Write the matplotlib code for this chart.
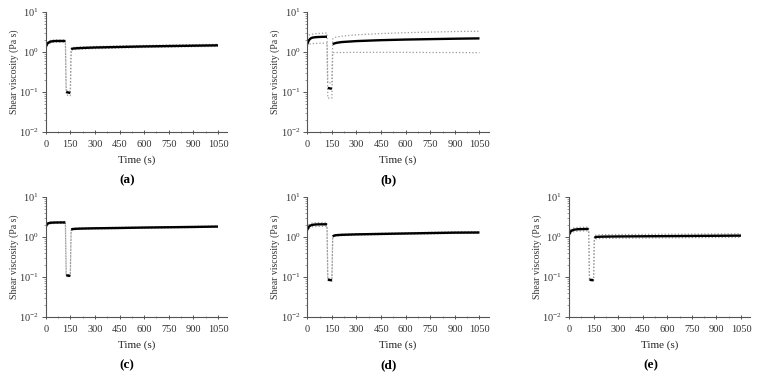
import matplotlib
matplotlib.use("Agg")
import matplotlib.pyplot as plt
import matplotlib.ticker as mticker
import numpy as np

plt.rcParams['font.family'] = 'Liberation Serif'
plt.rcParams['mathtext.fontset'] = 'stix'
plt.rcParams['font.size'] = 7.5

# time points (s): step 1 (0-120), step 2 (125-150), step 3 (155-1050)
t1 = [0, 5, 10, 20, 30, 45, 60, 90, 120]
t2 = [125, 135, 150]
t3 = [155, 165, 180, 210, 300, 450, 600, 750, 900, 1050]

# mean shear viscosity (Pa s) per sample, with upper / lower SD curves
mean_a = [1.30, 1.45, 1.60, 1.72, 1.80, 1.84, 1.86, 1.86, 1.86, 0.100, 0.097, 0.094,
          1.18, 1.20, 1.22, 1.24, 1.28, 1.32, 1.36, 1.39, 1.42, 1.45]
up_a = [1.40, 1.56, 1.72, 1.84, 1.92, 1.96, 1.98, 1.98, 1.98, 0.110, 0.107, 0.104,
        1.26, 1.28, 1.30, 1.32, 1.36, 1.40, 1.44, 1.48, 1.51, 1.54]
lo_a = [1.20, 1.34, 1.48, 1.60, 1.68, 1.72, 1.74, 1.74, 1.74, 0.085, 0.082, 0.080,
        1.10, 1.12, 1.14, 1.16, 1.20, 1.24, 1.28, 1.31, 1.34, 1.36]

mean_b = [1.55, 1.75, 1.95, 2.15, 2.25, 2.30, 2.33, 2.36, 2.38, 0.125, 0.123, 0.120,
          1.55, 1.62, 1.68, 1.75, 1.85, 1.95, 2.02, 2.07, 2.12, 2.16]
up_b = [2.20, 2.45, 2.60, 2.70, 2.75, 2.80, 2.85, 2.90, 2.95, 0.170, 0.168, 0.165,
        2.10, 2.25, 2.35, 2.45, 2.65, 2.85, 3.00, 3.10, 3.20, 3.25]
lo_b = [1.35, 1.45, 1.52, 1.58, 1.60, 1.62, 1.63, 1.64, 1.65, 0.070, 0.070, 0.070,
        0.95, 0.96, 0.96, 0.96, 0.97, 0.97, 0.97, 0.96, 0.96, 0.95]

mean_c = [1.75, 1.95, 2.10, 2.20, 2.24, 2.26, 2.27, 2.28, 2.28, 0.110, 0.108, 0.106,
          1.52, 1.56, 1.58, 1.60, 1.63, 1.66, 1.70, 1.73, 1.76, 1.80]
up_c = [1.85, 2.05, 2.22, 2.32, 2.36, 2.38, 2.39, 2.40, 2.40, 0.116, 0.114, 0.112,
        1.58, 1.62, 1.64, 1.66, 1.69, 1.72, 1.76, 1.79, 1.82, 1.86]
lo_c = [1.65, 1.85, 1.98, 2.08, 2.12, 2.14, 2.15, 2.16, 2.16, 0.104, 0.102, 0.100,
        1.46, 1.50, 1.52, 1.54, 1.57, 1.60, 1.64, 1.67, 1.70, 1.74]

mean_d = [1.50, 1.65, 1.80, 1.92, 1.98, 2.02, 2.04, 2.05, 2.05, 0.086, 0.084, 0.082,
          1.02, 1.08, 1.10, 1.12, 1.15, 1.18, 1.21, 1.24, 1.27, 1.28]
up_d = [1.65, 1.85, 2.02, 2.14, 2.20, 2.24, 2.26, 2.27, 2.27, 0.090, 0.088, 0.086,
        1.06, 1.12, 1.14, 1.16, 1.19, 1.22, 1.26, 1.30, 1.33, 1.34]
lo_d = [1.38, 1.50, 1.62, 1.72, 1.77, 1.80, 1.82, 1.83, 1.83, 0.082, 0.080, 0.078,
        0.98, 1.03, 1.05, 1.07, 1.10, 1.13, 1.16, 1.18, 1.21, 1.22]

mean_e = [1.12, 1.25, 1.36, 1.45, 1.50, 1.53, 1.55, 1.56, 1.57, 0.086, 0.084, 0.082,
          0.95, 0.99, 1.00, 1.01, 1.02, 1.03, 1.04, 1.05, 1.06, 1.07]
up_e = [1.25, 1.40, 1.52, 1.62, 1.67, 1.70, 1.72, 1.73, 1.74, 0.090, 0.088, 0.086,
        1.06, 1.10, 1.12, 1.13, 1.14, 1.15, 1.16, 1.17, 1.18, 1.19]
lo_e = [1.00, 1.12, 1.22, 1.30, 1.34, 1.37, 1.39, 1.40, 1.41, 0.082, 0.080, 0.078,
        0.86, 0.89, 0.90, 0.91, 0.92, 0.93, 0.94, 0.95, 0.96, 0.97]

panels = [
    ('(a)', mean_a, up_a, lo_a),
    ('(b)', mean_b, up_b, lo_b),
    ('(c)', mean_c, up_c, lo_c),
    ('(d)', mean_d, up_d, lo_d),
    ('(e)', mean_e, up_e, lo_e),
]

W, H = 758, 378
fig = plt.figure(figsize=(W / 100, H / 100), dpi=100)

# axes boxes in pixels: left, top, right, bottom
boxes = [
    (45.7, 11.7, 227, 132),
    (307.3, 11.7, 488.5, 132),
    (45.7, 196.7, 227, 317),
    (307.3, 196.7, 488.5, 317),
    (569, 196.7, 750, 317),
]

t_all = t1 + t2 + t3
n1, n2 = len(t1), len(t1) + len(t2)

for (label, mean, up, lo), (x0, y0, x1, y1) in zip(panels, boxes):
    ax = fig.add_axes([x0 / W, 1 - y1 / H, (x1 - x0) / W, (y1 - y0) / H])

    # SD envelope (dotted grey), continuous through the steps
    ax.plot(t_all, up, ':', color='#9a9a9a', lw=0.9)
    ax.plot(t_all, lo, ':', color='#9a9a9a', lw=0.9)

    # mean curve, one segment per step
    for a, b in [(0, n1), (n1, n2), (n2, len(t_all))]:
        ax.plot(t_all[a:b], mean[a:b], '-', color='black', lw=1.7,
                solid_capstyle='butt')

    ax.set_yscale('log')
    ax.set_ylim(1e-2, 1e1)
    ax.set_xlim(0, 1105)
    ax.set_xticks(np.arange(0, 1051, 150))
    ax.xaxis.set_minor_locator(mticker.MultipleLocator(75))
    ax.yaxis.set_major_locator(mticker.LogLocator(base=10, numticks=5))
    ax.yaxis.set_minor_locator(mticker.LogLocator(base=10, subs=np.arange(2, 10), numticks=20))
    ax.yaxis.set_minor_formatter(mticker.NullFormatter())

    for s in ['top', 'right']:
        ax.spines[s].set_visible(False)
    for s in ['left', 'bottom']:
        ax.spines[s].set_color('#555555')
        ax.spines[s].set_linewidth(0.8)
    ax.tick_params(which='major', length=3, width=0.7, color='#555555',
                   labelsize=7.5, pad=2, labelcolor='#333333')
    ax.tick_params(which='minor', length=1.8, width=0.5, color='#777777')
    ax.tick_params(axis='x', which='both', direction='inout', pad=4)

    ax.set_ylabel('Shear viscosity (Pa s)', fontsize=7, color='#333333')
    ax.yaxis.set_label_coords(-0.15, 0.5)
    ax.set_xlabel('Time (s)', fontsize=8, labelpad=5, color='#222222')
    ax.text(0.45, -0.40, label, transform=ax.transAxes, ha='center', va='center',
            fontsize=9.5, fontweight='bold')

fig.savefig('out.png', dpi=100, facecolor='white')
